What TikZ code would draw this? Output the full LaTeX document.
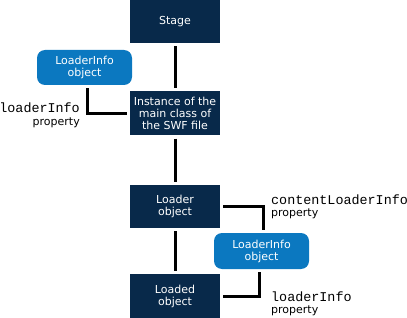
\documentclass[tikz,border=0pt]{standalone}
\usepackage{fontspec}
\setmainfont{DejaVu Sans}
\setmonofont{Liberation Mono}
\usepackage{xcolor}
\usetikzlibrary{positioning}

\definecolor{navy}{HTML}{08294A}
\definecolor{infoblue}{HTML}{0B78C0}

\begin{document}
\begin{tikzpicture}[
    x=1pt, y=-1pt,
    classbox/.style={rectangle, fill=navy, text=white, minimum width=90pt, minimum height=44pt, inner sep=0pt, align=center, font=\fontsize{11}{12}\selectfont},
    infobox/.style={rectangle, fill=infoblue, text=white, rounded corners=8pt, minimum width=95pt, minimum height=35pt, inner sep=0pt, align=center, font=\fontsize{11}{12}\selectfont},
    prop/.style={inner sep=0pt, font=\fontsize{11}{12}\selectfont},
    line/.style={draw=black, line width=3pt, shorten <=3pt, shorten >=3pt}
]
    \useasboundingbox (0,0) rectangle (407,318);

    % Main chain
    \node[classbox, minimum height=43pt] (stage) at (175,21.5) {Stage};
    \node[classbox, below=48pt of stage] (main) {Instance of the\\main class of\\the SWF file};
    \node[classbox, below=49pt of main, minimum height=43pt] (loader) {Loader\\object};
    \node[classbox, below=46pt of loader] (loaded) {Loaded\\object};

    % LoaderInfo objects
    \node[infobox] (infoA) at (84.5,67.5) {LoaderInfo\\object};
    \node[infobox, minimum height=36pt] (infoB) at (261.5,251) {LoaderInfo\\object};

    % Property labels
    \node[prop, anchor=north east, align=right] (propA) at (80,103) {{\fontsize{13.4}{13}\selectfont\ttfamily loaderInfo}\\[1pt]property};
    \node[prop, anchor=north west, align=left] (propB) at (271,195) {{\fontsize{13.4}{13}\selectfont\ttfamily contentLoaderInfo}\\property};
    \node[prop, anchor=north west, align=left] (propC) at (271,292) {{\fontsize{13.4}{13}\selectfont\ttfamily loaderInfo}\\property};

    % Connectors
    \draw[line] (stage) -- (main);
    \draw[line] (main) -- (loader);
    \draw[line] (loader) -- (loaded);
    \draw[line] ([xshift=3pt]infoA.south) |- (main.west);
    \draw[line] (loader.east) -| ([xshift=1.5pt]infoB.north);
    \draw[line] ([xshift=-2.5pt]infoB.south) |- (loaded.east);
\end{tikzpicture}
\end{document}
